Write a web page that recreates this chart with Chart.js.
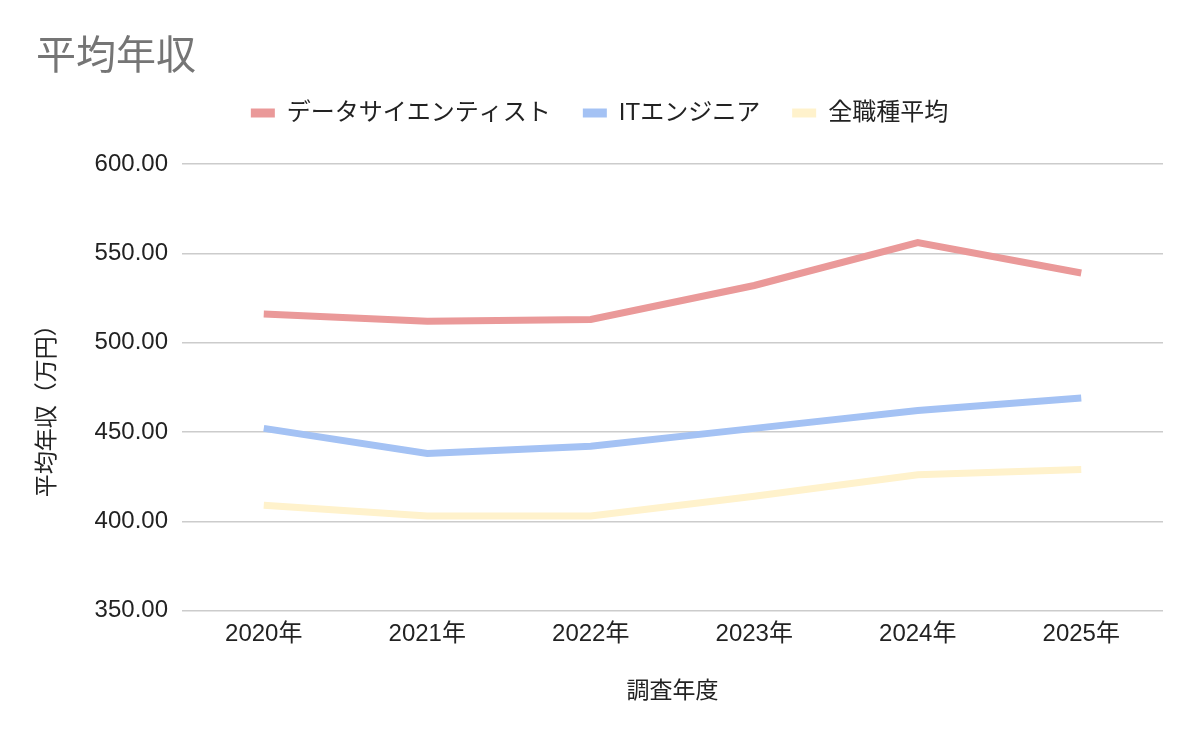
<!DOCTYPE html>
<html>
<head>
<meta charset="utf-8">
<script src="https://cdn.jsdelivr.net/npm/chart.js@4.4.1/dist/chart.umd.min.js"></script>
<style>
  html, body { margin: 0; padding: 0; background: #ffffff; }
  #wrap { width: 1200px; height: 742px; }
</style>
</head>
<body>
<div id="wrap"><canvas id="c" width="1200" height="742"></canvas></div>
<script>
const categories = ['2020年', '2021年', '2022年', '2023年', '2024年', '2025年'];
const dataScientist = [516, 512, 513, 532, 556, 539];
const itEngineer = [452, 438, 442, 452, 462, 469];
const allJobs = [409, 403, 403, 414, 426, 429];
const seriesNames = ['データサイエンティスト', 'ITエンジニア', '全職種平均'];
const yTicks = [350, 400, 450, 500, 550, 600];
const yTitle = '平均年収（万円）';

const FONT = '"Liberation Sans", Arial, "Noto Sans CJK JP", sans-serif';
const colors = ['#ea9999', '#a4c2f4', '#fff2cc'];

const legendMargin = {
  id: 'legendMargin',
  beforeInit(chart) {
    const fit = chart.legend.fit;
    chart.legend.fit = function () {
      fit.bind(chart.legend)();
      this.height += 29;
    };
  }
};

// y-axis title drawn slightly below the plot centre, as in the reference
const yTitlePlugin = {
  id: 'yTitlePlugin',
  afterDraw(chart) {
    const ctx = chart.ctx;
    const area = chart.chartArea;
    ctx.save();
    ctx.translate(48, (area.top + area.bottom) / 2 + 18);
    ctx.rotate(-Math.PI / 2);
    ctx.font = '23px ' + FONT;
    ctx.fillStyle = '#222222';
    ctx.textAlign = 'center';
    ctx.textBaseline = 'middle';
    ctx.fillText(yTitle, 0, 0);
    ctx.restore();
  }
};

const mk = (label, data, color) => ({
  label, data,
  borderColor: color,
  backgroundColor: color,
  borderWidth: 7,
  borderJoinStyle: 'miter',
  borderCapStyle: 'butt',
  pointRadius: 0,
  pointHoverRadius: 0,
  tension: 0,
  fill: false
});

new Chart(document.getElementById('c'), {
  type: 'line',
  data: {
    labels: categories,
    datasets: [
      mk(seriesNames[0], dataScientist, colors[0]),
      mk(seriesNames[1], itEngineer, colors[1]),
      mk(seriesNames[2], allJobs, colors[2])
    ]
  },
  options: {
    responsive: false,
    animation: false,
    devicePixelRatio: 1,
    layout: { padding: { left: 36, right: 37, top: 10, bottom: 37 } },
    plugins: {
      title: {
        display: true,
        text: '平均年収',
        align: 'start',
        color: '#757575',
        font: { family: FONT, size: 40, weight: 'normal', lineHeight: 1 },
        padding: { top: 28, bottom: -9 }
      },
      legend: {
        display: true,
        position: 'top',
        align: 'center',
        labels: {
          color: '#222222',
          font: { family: FONT, size: 24 },
          boxWidth: 24,
          boxHeight: 9,
          padding: 32,
          generateLabels(chart) {
            return chart.data.datasets.map((ds, i) => ({
              text: ds.label,
              fillStyle: ds.borderColor,
              strokeStyle: ds.borderColor,
              lineWidth: 0,
              datasetIndex: i,
              fontColor: '#222222'
            }));
          }
        }
      },
      tooltip: { enabled: false }
    },
    scales: {
      x: {
        offset: true,
        grid: { display: false, drawTicks: false },
        border: { display: false },
        ticks: {
          color: '#222222',
          font: { family: FONT, size: 24 },
          padding: 9,
          maxRotation: 0
        },
        title: {
          display: true,
          text: '調査年度',
          color: '#222222',
          font: { family: FONT, size: 23 },
          padding: { top: 20, bottom: 0 }
        }
      },
      y: {
        min: 350,
        max: 600,
        afterBuildTicks(axis) { axis.ticks = yTicks.map(v => ({ value: v })); },
        grid: { color: '#cccccc', lineWidth: 1.5, drawTicks: false },
        border: { display: false },
        ticks: {
          color: '#222222',
          font: { family: FONT, size: 24 },
          padding: 14,
          callback: (v) => Number(v).toFixed(2)
        },
        title: {
          display: true,
          text: yTitle,
          color: 'rgba(0,0,0,0)',
          font: { family: FONT, size: 23 },
          padding: { top: 0, bottom: 17 }
        }
      }
    }
  },
  plugins: [legendMargin, yTitlePlugin]
});
</script>
</body>
</html>
